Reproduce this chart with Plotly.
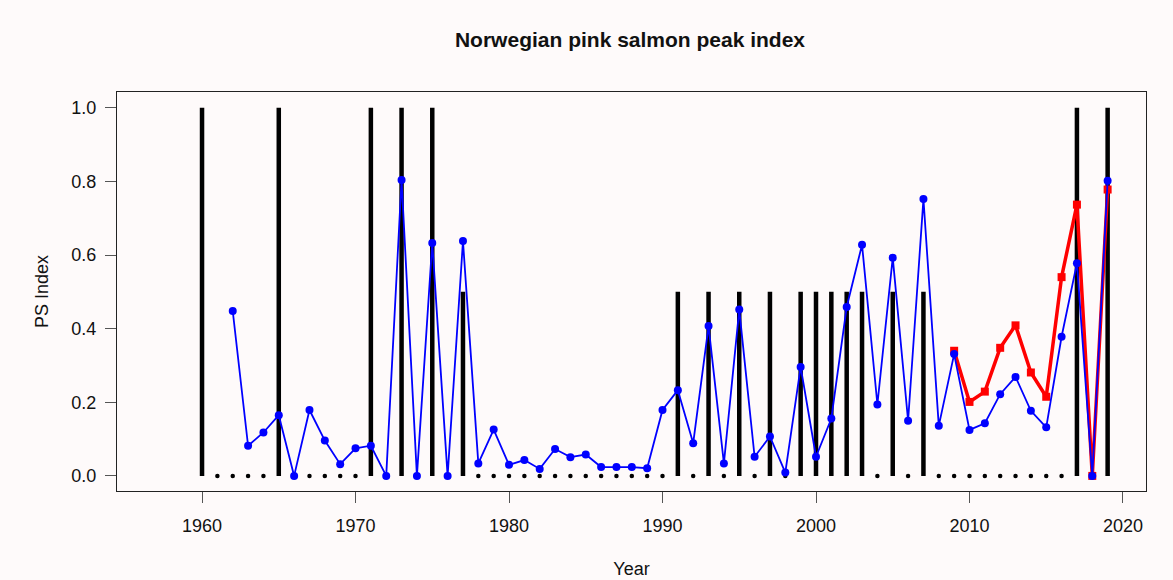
import plotly.graph_objects as go

# годы индикатора пиков (чёрные столбики)
peak_years = list(range(1960, 2020))
peak_values = [
    1, 0, 0, 0, 0, 1, 0, 0, 0, 0, 0, 1, 0, 1, 0, 1, 0, 0.5, 0, 0,
    0, 0, 0, 0, 0, 0, 0, 0, 0, 0, 0, 0.5, 0, 0.5, 0, 0.5, 0, 0.5, 0, 0.5,
    0.5, 0.5, 0.5, 0.5, 0, 0.5, 0, 0.5, 0, 0, 0, 0, 0, 0, 0, 0, 0, 1, 0, 1,
]

# индекс PS (синяя линия)
ps_years = list(range(1962, 2020))
ps_values = [
    0.448, 0.082, 0.118, 0.165, 0.000, 0.179, 0.096, 0.032, 0.075, 0.082,
    0.000, 0.804, 0.000, 0.633, 0.000, 0.638, 0.034, 0.126, 0.030, 0.043,
    0.019, 0.073, 0.051, 0.058, 0.024, 0.024, 0.024, 0.021, 0.179, 0.233,
    0.089, 0.407, 0.034, 0.452, 0.052, 0.107, 0.009, 0.296, 0.052, 0.156,
    0.459, 0.628, 0.194, 0.593, 0.150, 0.752, 0.136, 0.331, 0.125, 0.143,
    0.222, 0.269, 0.177, 0.132, 0.378, 0.578, 0.000, 0.802,
]

# альтернативный индекс (красная линия)
alt_years = list(range(2009, 2020))
alt_values = [0.340, 0.201, 0.229, 0.348, 0.409, 0.281, 0.215, 0.540, 0.737, 0.000, 0.778]

y_ticks = [0.0, 0.2, 0.4, 0.6, 0.8, 1.0]
x_ticks = [1960, 1970, 1980, 1990, 2000, 2010, 2020]

FONT = "Arial, Liberation Sans, sans-serif"
BG = '#fefafa'

# вертикальные отрезки для type="h"
seg_x, seg_y = [], []
dot_x, dot_y = [], []
for yr, v in zip(peak_years, peak_values):
    if v > 0:
        seg_x += [yr, yr, None]
        seg_y += [0, v, None]
    else:
        dot_x.append(yr)
        dot_y.append(v)

fig = go.Figure()

fig.add_trace(go.Scatter(
    x=seg_x, y=seg_y, mode='lines',
    line=dict(color='black', width=4.5),
    hoverinfo='skip', showlegend=False
))
fig.add_trace(go.Scatter(
    x=dot_x, y=dot_y, mode='markers',
    marker=dict(color='black', size=4.5),
    hoverinfo='skip', showlegend=False
))

fig.add_trace(go.Scatter(
    x=alt_years, y=alt_values, mode='lines+markers',
    line=dict(color='#ff0000', width=3.5),
    marker=dict(color='#ff0000', size=8, symbol='square'),
    showlegend=False
))

fig.add_trace(go.Scatter(
    x=ps_years, y=ps_values, mode='lines+markers',
    line=dict(color='#0000ff', width=1.8),
    marker=dict(color='#0000ff', size=8),
    showlegend=False
))

fig.update_layout(
    width=1173, height=580,
    margin=dict(l=117, r=27, t=92, b=89),
    paper_bgcolor=BG,
    plot_bgcolor=BG,
    font=dict(family=FONT, size=18, color='#111'),
    title=dict(
        text='<b>Norwegian pink salmon peak index</b>',
        x=630 / 1173, xanchor='center',
        y=1 - 40 / 580, yanchor='middle',
        font=dict(family=FONT, size=21, color='#111')
    ),
    xaxis=dict(
        range=[1954.46, 2021.5],
        tickvals=x_ticks,
        ticks='outside', ticklen=11, tickcolor='#555',
        ticklabelstandoff=7,
        showline=True, mirror=True, linecolor='#222', linewidth=1,
        showgrid=False, zeroline=False, automargin=False,
        title=dict(text='Year', standoff=27, font=dict(size=18)),
    ),
    yaxis=dict(
        range=[-0.041, 1.043],
        tickvals=y_ticks, tickformat='.1f',
        ticks='outside', ticklen=11, tickcolor='#555',
        ticklabelstandoff=5,
        showline=True, mirror=True, linecolor='#222', linewidth=1,
        showgrid=False, zeroline=False, automargin=False,
        title=dict(text='PS Index', standoff=18, font=dict(size=18)),
    ),
)

# убрать стандартный отступ body, чтобы график начинался с (0, 0)
fig.write_html(
    "out.html",
    config={'displayModeBar': False},
    post_script=f"document.body.style.margin='0';document.body.style.background='{BG}';"
)
